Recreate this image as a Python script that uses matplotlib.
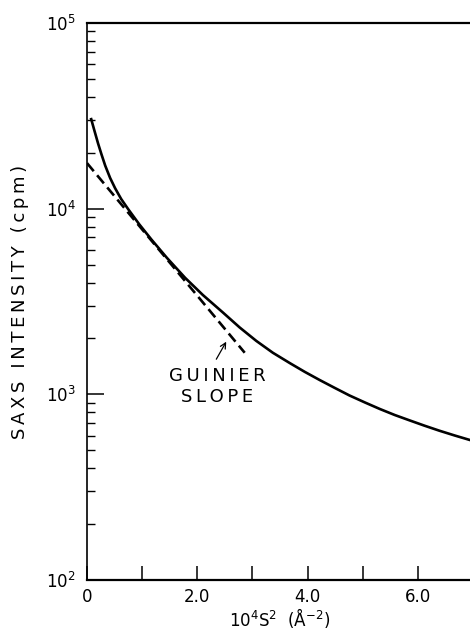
import numpy as np
import matplotlib
matplotlib.use("Agg")
from matplotlib import pyplot as plt
from matplotlib.ticker import FixedLocator, LogLocator, NullFormatter, FixedFormatter

plt.rcParams['font.family'] = ['DejaVu Sans']
plt.rcParams['mathtext.default'] = 'regular'

# measured SAXS curve, x in 10^4 s^2 (A^-2), intensity in cpm
s2 = [0.07, 0.13, 0.20, 0.26, 0.33, 0.42, 0.51, 0.62, 0.75, 0.95, 1.17, 1.45,
      1.78, 2.10, 2.47, 2.77, 3.07, 3.37, 3.68, 3.95, 4.22, 4.49, 4.76, 5.04,
      5.31, 5.58, 5.85, 6.12, 6.39, 6.67, 6.94, 7.10]
intensity = [30830, 26610, 22490, 19720, 17060, 14620, 12880, 11270, 9910, 8220, 6810, 5430,
             4240, 3430, 2750, 2290, 1940, 1675, 1472, 1321, 1194, 1084, 986, 904,
             834, 774, 724, 678, 637, 600, 568, 550]

# Guinier straight-line fit
guinier_s2 = [0.0, 2.86]
guinier_i = [17600, 1675]

x_major = [0, 1, 2, 3, 4, 5, 6, 7]
x_labels = ['0', '', '2.0', '', '4.0', '', '6.0', '']
y_major = [1e2, 1e3, 1e4, 1e5]
y_labels = ['10$^{2}$', '10$^{3}$', '10$^{4}$', '10$^{5}$']

fig = plt.figure(figsize=(4.70, 6.33), dpi=100)
ax = fig.add_axes([87 / 470, 53 / 633, 386 / 470, 557 / 633])

ax.plot(s2, intensity, color='black', lw=1.9, solid_capstyle='butt')
ax.plot(guinier_s2, guinier_i, color='black', lw=1.9, linestyle=(0, (4, 2)))

ax.set_yscale('log')
ax.set_xlim(0, 7.0)
ax.set_ylim(1e2, 1e5)

ax.spines['right'].set_visible(False)
ax.spines['top'].set_linewidth(1.6)
ax.spines['bottom'].set_linewidth(1.6)
ax.spines['left'].set_linewidth(1.2)

ax.xaxis.set_major_locator(FixedLocator(x_major))
ax.xaxis.set_major_formatter(FixedFormatter(x_labels))
ax.tick_params(axis='x', which='major', direction='in', length=10, width=1.1,
               labelsize=12, pad=6, top=False)

ax.yaxis.set_major_locator(FixedLocator(y_major))
ax.yaxis.set_major_formatter(FixedFormatter(y_labels))
ax.yaxis.set_minor_locator(LogLocator(base=10, subs=np.arange(2, 10)))
ax.yaxis.set_minor_formatter(NullFormatter())
ax.tick_params(axis='y', which='major', direction='in', length=12, width=1.1,
               labelsize=12, pad=8, right=False)
ax.tick_params(axis='y', which='minor', direction='in', length=5.5, width=1.0, right=False)

# letter-spaced labels
ts = '\u2009'
ax.set_xlabel('10$^{4}$S$^{2}$  (Å$^{-2}$)', fontsize=12, labelpad=0)
ax.set_ylabel(ts.join('SAXS INTENSITY (cpm)'), fontsize=13, labelpad=12)

ax.annotate('', xy=(2.55, 1980), xytext=(2.32, 1500),
            arrowprops=dict(arrowstyle='->', color='black', lw=0.9, mutation_scale=10))
ax.text(2.36, 1100, ts.join('GUINIER') + '\n' + ts.join('SLOPE'), ha='center', va='center',
        fontsize=13, linespacing=1.2)

fig.savefig('out.png', dpi=100)
